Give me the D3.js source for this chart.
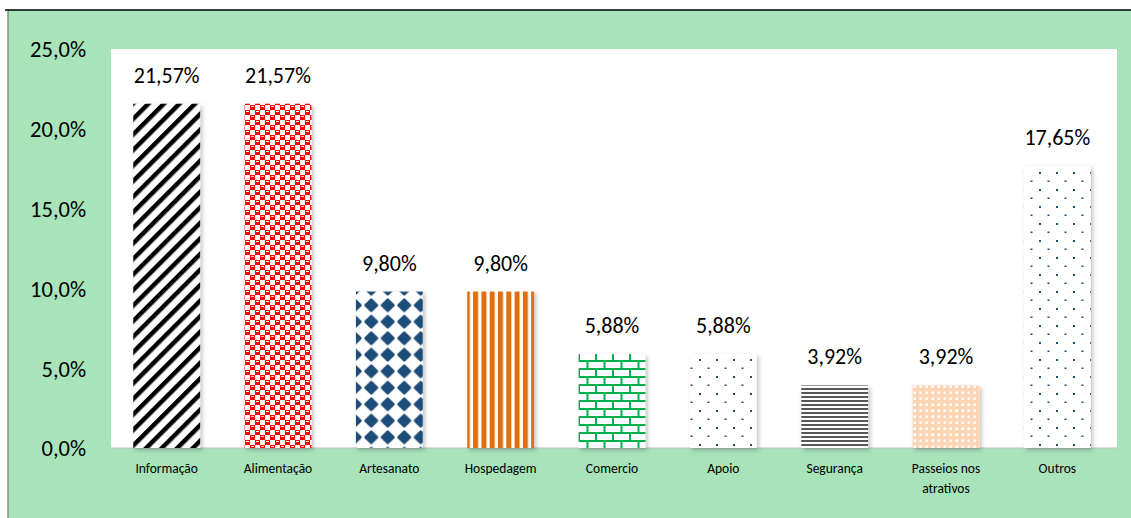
<!DOCTYPE html>
<html><head><meta charset="utf-8">
<script src="https://cdn.jsdelivr.net/npm/d3@7"></script>
<style>
html,body{margin:0;padding:0;background:#fff;}
svg{display:block;font-family:Calibri,Carlito,"Liberation Sans","Open Sans",sans-serif;}
</style></head>
<body>
<script>
const categories = ["Informação","Alimentação","Artesanato","Hospedagem","Comercio","Apoio","Segurança","Passeios nos|atrativos","Outros"];
const values = [21.57,21.57,9.80,9.80,5.88,5.88,3.92,3.92,17.65];
const valueLabels = ["21,57%","21,57%","9,80%","9,80%","5,88%","5,88%","3,92%","3,92%","17,65%"];
const tickValues = [0,5,10,15,20,25];
const tickLabels = ["0,0%","5,0%","10,0%","15,0%","20,0%","25,0%"];
const patterns = ["diag","checker","diamond","vstripe","brick","dots","hstripe","peach","dots"];

const W=1131,H=518;
const svg=d3.select("body").append("svg").attr("width",W).attr("height",H);
const defs=svg.append("defs");

// background
svg.append("rect").attr("x",8).attr("y",10).attr("width",W-8).attr("height",H-10).attr("fill","#a8e3ba");
svg.append("line").attr("x1",8).attr("x2",8).attr("y1",10).attr("y2",H).attr("stroke","#8c8c8c").attr("stroke-width",1.5);
svg.append("line").attr("x1",5).attr("x2",W).attr("y1",10).attr("y2",10).attr("stroke","#000").attr("stroke-width",1.5);

const plot={l:111,t:49,r:1117,b:448};
svg.append("rect").attr("x",plot.l).attr("y",plot.t).attr("width",plot.r-plot.l).attr("height",plot.b-plot.t).attr("fill","#fff");

const x=d3.scaleBand().domain(categories).range([plot.l,1113]).paddingInner(0.4).paddingOuter(0.2);
const y=d3.scaleLinear().domain([0,25]).range([plot.b,plot.t]);

// patterns
function pat(id,w,h){return defs.append("pattern").attr("id",id).attr("patternUnits","userSpaceOnUse").attr("width",w).attr("height",h);}
let p;
p=pat("diag",11,11).attr("patternTransform","rotate(45)");
p.append("rect").attr("width",11).attr("height",11).attr("fill","#fff");
p.append("rect").attr("width",4.5).attr("height",11).attr("fill","#000");

p=pat("checker",10,10);
p.append("rect").attr("width",10).attr("height",10).attr("fill","#ff0000");
p.append("rect").attr("x",0).attr("y",0).attr("width",5).attr("height",5).attr("fill","#fff");
p.append("rect").attr("x",5).attr("y",5).attr("width",5).attr("height",5).attr("fill","#fff");
p.append("rect").attr("x",6).attr("y",1).attr("width",3).attr("height",1).attr("fill","#fff");
p.append("rect").attr("x",1).attr("y",6).attr("width",3).attr("height",1).attr("fill","#ffd0d0");

p=pat("diamond",16.5,16.5);
p.append("rect").attr("width",16.5).attr("height",16.5).attr("fill","#fff");
p.append("path").attr("d","M8.25,2.5 L14,8.25 L8.25,14 L2.5,8.25 Z").attr("fill","#1f4e79").attr("stroke","#1f4e79").attr("stroke-width",2.5).attr("stroke-linejoin","round");

p=pat("vstripe",8.3,10);
p.append("rect").attr("width",8.3).attr("height",10).attr("fill","#fff");
p.append("rect").attr("width",5).attr("height",10).attr("fill","#e36c09");

p=pat("brick",17,16);
p.append("rect").attr("width",17).attr("height",16).attr("fill","#fff");
p.append("rect").attr("x",0).attr("y",0).attr("width",17).attr("height",2).attr("fill","#00b050");
p.append("rect").attr("x",0).attr("y",8).attr("width",17).attr("height",2).attr("fill","#00b050");
p.append("rect").attr("x",0).attr("y",0).attr("width",2).attr("height",8).attr("fill","#00b050");
p.append("rect").attr("x",8.5).attr("y",8).attr("width",2).attr("height",8).attr("fill","#00b050");

p=pat("dots",17,17);
p.append("rect").attr("width",17).attr("height",17).attr("fill","#fff");
p.append("rect").attr("x",2).attr("y",2).attr("width",2).attr("height",2).attr("fill","#1f4e79");
p.append("rect").attr("x",10.5).attr("y",10.5).attr("width",2).attr("height",1.5).attr("fill","#1f4e79");

p=pat("hstripe",10,4);
p.append("rect").attr("width",10).attr("height",4).attr("fill","#fff");
p.append("rect").attr("y",0).attr("width",10).attr("height",2).attr("fill","#595959");

p=pat("peach",6,6);
p.append("rect").attr("width",6).attr("height",6).attr("fill","#fcd5b5");
p.append("rect").attr("x",1.5).attr("y",1.5).attr("width",2.5).attr("height",2.5).attr("fill","#fff");

const f=defs.append("filter").attr("id","shadow").attr("x","-20%").attr("y","-10%").attr("width","150%").attr("height","130%");
f.append("feDropShadow").attr("dx",2).attr("dy",2).attr("stdDeviation",2).attr("flood-color","#000").attr("flood-opacity",0.25);

// y axis labels
const yAxis=d3.axisLeft(y).tickValues(tickValues).tickFormat((d,i)=>tickLabels[i]).tickSize(0).tickPadding(0);
const ya=svg.append("g").attr("transform","translate(86,0)").call(yAxis);
ya.select(".domain").remove();
ya.selectAll("text").attr("font-size",22.5).attr("fill","#000").attr("dy","0.35em").attr("font-family","Calibri,Carlito,'Liberation Sans',sans-serif");

// x axis line
svg.append("line").attr("x1",plot.l).attr("x2",plot.r).attr("y1",plot.b).attr("y2",plot.b).attr("stroke","#bfbfbf").attr("stroke-width",1);

// bars
svg.selectAll("rect.bar").data(values).join("rect").attr("class","bar")
 .attr("x",(d,i)=>x(categories[i])).attr("width",x.bandwidth())
 .attr("y",d=>y(d)).attr("height",d=>y(0)-y(d))
 .attr("fill",(d,i)=>`url(#${patterns[i]})`).attr("filter","url(#shadow)");

// value labels
svg.selectAll("text.val").data(values).join("text").attr("class","val")
 .attr("x",(d,i)=>x(categories[i])+x.bandwidth()/2).attr("y",d=>y(d)-21)
 .attr("text-anchor","middle").attr("font-size",22).attr("fill","#000")
 .text((d,i)=>valueLabels[i]);

// category labels
const xa=svg.append("g");
categories.forEach((c,i)=>{
  const lines=c.split("|");
  const t=xa.append("text").attr("x",x(c)+x.bandwidth()/2).attr("y",473).attr("text-anchor","middle").attr("font-size",13.5).attr("fill","#000");
  lines.forEach((l,j)=>t.append("tspan").attr("x",x(c)+x.bandwidth()/2).attr("dy",j?20:0).text(l));
});
</script>
</body></html>
